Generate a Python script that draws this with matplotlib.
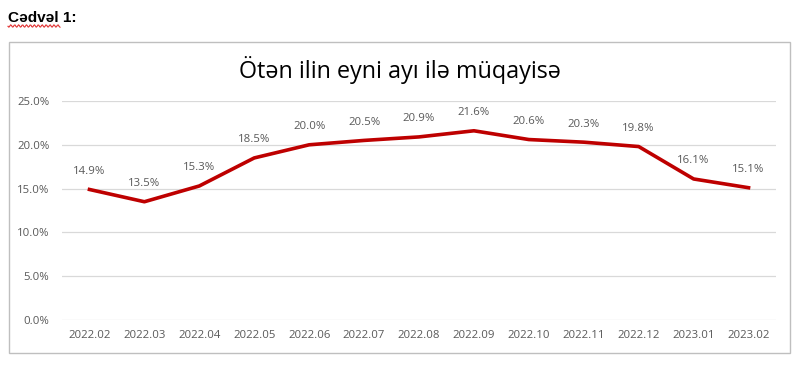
import numpy as np
import matplotlib.pyplot as plt
from matplotlib.patches import Rectangle

# Datos
meses = ['2022.02', '2022.03', '2022.04', '2022.05', '2022.06', '2022.07', '2022.08',
         '2022.09', '2022.10', '2022.11', '2022.12', '2023.01', '2023.02']
valores = [14.9, 13.5, 15.3, 18.5, 20.0, 20.5, 20.9, 21.6, 20.6, 20.3, 19.8, 16.1, 15.1]

titulo = 'Ötən ilin eyni ayı ilə müqayisə'
encabezado = 'Cədvəl 1:'

gris = '#595959'
rojo = '#BE0000'

fig = plt.figure(figsize=(8, 3.67), dpi=100)
W, H = 800, 367

# marco del gráfico
fig.patches.append(Rectangle((9 / W, 1 - 353 / H), (790 - 9) / W, (353 - 42) / H,
                             transform=fig.transFigure, fill=False,
                             edgecolor='#BFBFBF', linewidth=1.0))

# encabezado con subrayado ondulado
fig.text(8 / W, 1 - 18 / H, encabezado, fontsize=11.1, fontweight='bold',
         family='Liberation Sans', va='center', ha='left')
xs = np.linspace(8, 60, 60)
ys = 26 + 1.2 * np.sin(xs * 1.6)
fig.add_artist(plt.Line2D(xs / W, 1 - ys / H, color='#E03030', linewidth=0.8,
                          transform=fig.transFigure))

fig.text(0.5, 1 - 70 / H, titulo, fontsize=16.8, family='Open Sans',
         ha='center', va='center', color='black')

ax = fig.add_axes([62 / W, 1 - 320 / H, (776 - 62) / W, (320 - 101) / H])
x = np.arange(len(meses))
ax.plot(x, valores, color=rojo, linewidth=2.6, solid_joinstyle='round')
for xi, v in zip(x, valores):
    ax.annotate(f'{v:.1f}%', (xi, v), xytext=(0, 9), textcoords='offset points',
                ha='center', va='bottom', fontsize=8.2, color=gris, family='Open Sans')

ax.set_xlim(-0.5, len(meses) - 0.5)
ax.set_ylim(0, 25)
ax.set_yticks(np.arange(0, 26, 5))
ax.set_yticklabels([f'{t:.1f}%' for t in np.arange(0, 26, 5)])
ax.set_xticks(x)
ax.set_xticklabels(meses)
for lbl in ax.get_xticklabels() + ax.get_yticklabels():
    lbl.set_family('Open Sans')
    lbl.set_fontsize(8.2)
    lbl.set_color(gris)
ax.tick_params(length=0, pad=7)
ax.tick_params(axis='y', pad=9)
ax.grid(axis='y', color='#D9D9D9', linewidth=0.9)
ax.set_axisbelow(True)
for s in ax.spines.values():
    s.set_visible(False)

plt.savefig('out.png', dpi=100)
